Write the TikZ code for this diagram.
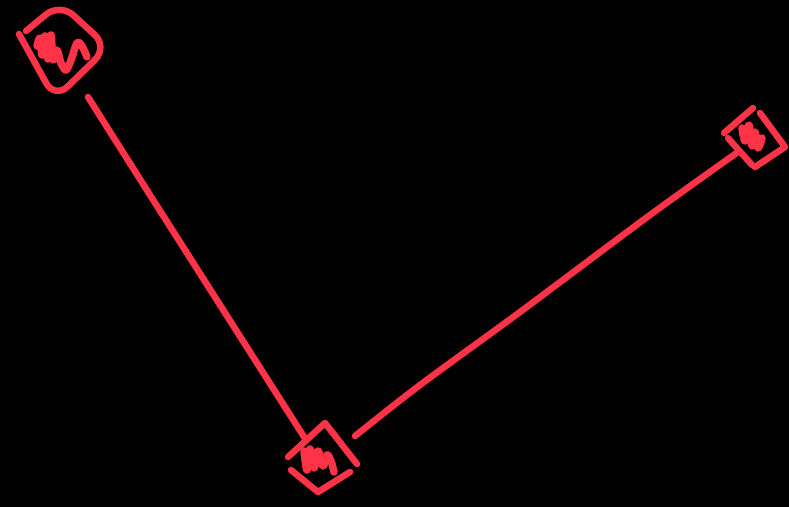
\documentclass[tikz,border=0pt]{standalone}
\begin{document}
\begin{tikzpicture}[x=1pt,y=-1pt,
  ink/.style={draw=sketchred,line width=6.5pt,line cap=round,line join=round},
  scrib/.style={ink,line width=7.5pt}]
\definecolor{sketchred}{HTML}{FF3347}
\fill[black] (0,0) rectangle (789,507);
\useasboundingbox (0,0) rectangle (789,507);
% named anchor points
\coordinate (a) at (88,97);
\coordinate (b) at (306,440);
\coordinate (c) at (355,436);
\coordinate (d) at (738,152);
% node 1 (top left)
\draw[ink,rounded corners=18pt] (19,34) -- (55,99) -- (108,47) -- (60,3) -- (26,31);
\draw[scrib] plot[smooth,tension=0.55] coordinates {(37,46) (40,38) (42,55) (45,36) (48,59) (51,35) (53,60) (57,50) (61,63) (66,70) (71,60) (77,43) (82,46) (87,57)};
% node 2 (bottom)
\draw[ink] (288,457) -- (325,423) -- (357,464);
\draw[ink] (291,470) -- (318,492) -- (350,472);
\draw[scrib] plot[smooth,tension=0.6] coordinates {(304,451) (307,470) (310,449) (314,468) (318,451) (323,466) (327,455) (331,461) (334,472)};
% node 3 (right)
\draw[ink] (724,133) -- (753,108);
\draw[ink] (760,113) -- (785,147) -- (755,167);
\draw[ink] (728,138) -- (752,165);
\draw[scrib] plot[smooth,tension=0.6] coordinates {(742,128) (745,141) (749,125) (752,146) (755,132) (758,148) (762,138)};
% connectors
\draw[ink] (a) -- (150,195) -- (b);
\draw[ink] plot[smooth,tension=0.5] coordinates {(c) (420,385) (520,312) (650,215) (d)};
\end{tikzpicture}
\end{document}
